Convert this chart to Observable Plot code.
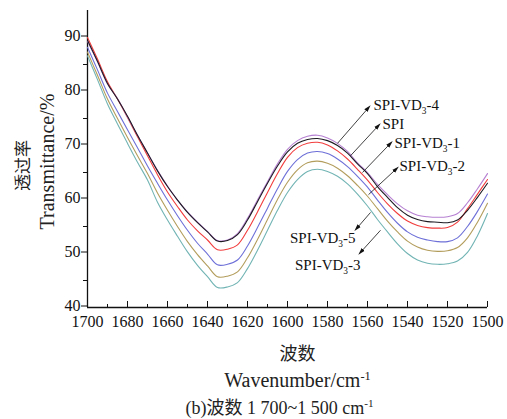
<!DOCTYPE html>
<html>
<head>
<meta charset="utf-8">
<script src="https://cdn.jsdelivr.net/npm/d3@7"></script>
<script src="https://cdn.jsdelivr.net/npm/@observablehq/plot@0.6"></script>
<style>
  html, body { margin: 0; padding: 0; background: #fff; }
  #chart { width: 507px; height: 419px; }
</style>
</head>
<body>
<div id="chart"></div>
<script>
// ---- data ----
const wavenumbers = [1700,1695,1690,1685,1680,1675,1670,1665,1660,1655,1650,1645,1640,1635,1630,1625,1620,1615,1610,1605,1600,1595,1590,1585,1580,1575,1570,1565,1560,1555,1550,1545,1540,1535,1530,1525,1520,1515,1510,1505,1500];

const seriesNames = ["SPI-VD3-3", "SPI-VD3-5", "SPI-VD3-2", "SPI-VD3-1", "SPI-VD3-4", "SPI"];
const seriesColors = ["#72b4b4", "#b39d5c", "#6e70d8", "#f23c3c", "#b680d2", "#1e1a22"];

const spiVD3_3 = [86.6,82.2,77.7,74.0,70.4,66.9,63.6,59.5,56.2,53.2,50.3,47.8,45.7,43.7,43.8,44.6,47.2,50.6,54.3,58.0,61.3,63.7,65.2,65.6,65.2,64.3,62.9,61.0,58.8,56.3,54.0,51.8,50.0,48.8,48.2,48.0,48.1,48.6,50.2,53.3,57.4];
const spiVD3_5 = [87.3,83.0,78.6,75.0,71.5,68.1,64.8,61.2,58.0,55.0,52.2,49.8,47.7,45.7,45.8,46.6,49.2,52.6,56.3,60.0,63.2,65.5,66.8,67.1,66.7,65.8,64.4,62.6,60.6,58.3,56.0,54.0,52.3,51.2,50.6,50.4,50.5,51.1,52.9,55.8,59.3];
const spiVD3_2 = [88.2,84.0,79.7,76.3,72.9,69.6,66.2,63.0,59.9,57.0,54.3,51.9,49.9,47.9,48.0,48.8,51.4,54.8,58.4,62.0,65.2,67.4,68.6,68.9,68.5,67.5,66.1,64.3,62.3,59.9,57.6,55.6,54.0,53.0,52.5,52.2,52.2,52.9,55.0,57.8,61.0];
const spiVD3_1 = [90.0,86.0,81.8,78.6,75.2,71.6,68.1,64.6,61.4,58.7,56.2,54.2,52.5,50.7,50.8,51.6,54.3,57.7,61.3,64.8,67.8,69.6,70.4,70.6,70.1,69.0,67.5,65.6,63.6,61.3,59.2,57.4,56.0,55.2,54.8,54.7,54.8,55.8,58.3,61.0,63.7];
const spiVD3_4 = [89.3,85.5,81.4,78.7,75.3,71.9,68.6,65.4,62.5,59.9,57.7,55.8,54.1,52.4,52.5,53.7,56.5,59.9,63.3,66.6,69.3,70.9,71.7,71.9,71.4,70.4,68.9,66.8,65.0,62.8,60.9,59.2,57.9,57.1,56.8,56.7,56.8,57.4,59.4,62.0,64.8];
const spi      = [89.5,85.6,81.5,78.6,75.4,71.9,68.6,65.3,62.4,59.9,57.6,55.7,54.0,52.3,52.4,53.5,56.2,59.6,63.0,66.2,68.8,70.4,71.1,71.3,70.9,70.0,68.6,66.6,64.8,62.4,60.4,58.5,57.1,56.3,55.9,55.8,55.7,56.2,58.0,60.4,63.0];

const seriesValues = [spiVD3_3, spiVD3_5, spiVD3_2, spiVD3_1, spiVD3_4, spi];

const yMajorTicks = [40, 50, 60, 70, 80, 90];
const yMinorTicks = [45, 55, 65, 75, 85];
const xMajorTicks = [1700, 1680, 1660, 1640, 1620, 1600, 1580, 1560, 1540, 1520, 1500];
const xMinorTicks = [1690, 1670, 1650, 1630, 1610, 1590, 1570, 1550, 1530, 1510];

// annotation labels (text, label anchor point, arrow start on curve, arrow tip)
const annLabels = ["SPI-VD_{3}-4", "SPI", "SPI-VD_{3}-1", "SPI-VD_{3}-2", "SPI-VD_{3}-5", "SPI-VD_{3}-3"];
const annTextX  = [1557, 1552.5, 1546.5, 1544, 1566, 1563.5];
const annTextY  = [77.4, 73.9, 70.4, 66.1, 52.8, 47.8];
const annAnchor = ["start", "start", "start", "start", "end", "end"];
const arrowX1 = [1575, 1568.5, 1562.5, 1559.5, 1558.5, 1553.5];
const arrowY1 = [70.4, 68.1, 65.0, 60.9, 57.6, 54.3];
const arrowX2 = [1559.5, 1554.5, 1548.5, 1545.5, 1565.5, 1563.5];
const arrowY2 = [77.0, 73.7, 70.4, 65.7, 54.6, 50.2];

const yTitleCN = "透过率";
const yTitleEN = "Transmittance/%";
const xTitleCN = "波数";
const xTitleEN = "Wavenumber/cm^{-1}";
const caption = "(b)波数 1 700~1 500 cm^{-1}";

// ---- build tables ----
const rows = [];
seriesNames.forEach((name, s) => {
  wavenumbers.forEach((w, i) => rows.push({series: name, w, t: seriesValues[s][i]}));
});
const ann = annLabels.map((label, i) => ({
  label, tx: annTextX[i], ty: annTextY[i], anchor: annAnchor[i],
  x1: arrowX1[i], y1: arrowY1[i], x2: arrowX2[i], y2: arrowY2[i]
}));

const FONT = "'Liberation Serif', 'Times New Roman', 'Noto Sans CJK SC', serif";

const chart = Plot.plot({
  width: 507,
  height: 419,
  marginLeft: 87,
  marginRight: 20,
  marginTop: 10,
  marginBottom: 112,
  style: {fontFamily: FONT, background: "#fff", overflow: "visible"},
  x: {domain: [1700, 1500]},
  y: {domain: [40, 95]},
  color: {domain: seriesNames, range: seriesColors},
  marks: [
    // axes
    Plot.axisY({ticks: yMajorTicks, tickSize: 6, tickPadding: 1, fontSize: 16, stroke: "#111", color: "#111", label: null, dy: -1.5}),
    Plot.axisY({ticks: yMinorTicks, tickSize: 4, text: null, stroke: "#111", label: null}),
    Plot.axisX({ticks: xMajorTicks, tickSize: -6, text: null, stroke: "#111", label: null}),
    Plot.axisX({ticks: xMinorTicks, tickSize: -3, text: null, stroke: "#111", label: null}),
    Plot.axisX({ticks: xMajorTicks, tickSize: 0, tickPadding: 8, fontSize: 16, color: "#111", tickFormat: d => String(d), label: null}),
    Plot.ruleX([1700], {stroke: "#111", strokeWidth: 1.3}),
    Plot.ruleY([40], {stroke: "#111", strokeWidth: 1.3}),
    // curves
    Plot.line(rows, {x: "w", y: "t", z: "series", stroke: "series", strokeWidth: 1.1, curve: "catmull-rom"}),
    // annotation arrows
    Plot.link(ann, {x1: "x1", y1: "y1", x2: "x2", y2: "y2", stroke: "#111", strokeWidth: 0.8, markerEnd: "arrow"}),
    Plot.text(ann.filter(d => d.anchor === "start"), {x: "tx", y: "ty", text: "label", textAnchor: "start", fontSize: 15, fill: "#111"}),
    Plot.text(ann.filter(d => d.anchor === "end"), {x: "tx", y: "ty", text: "label", textAnchor: "end", fontSize: 15, fill: "#111"}),
    // titles
    Plot.text([yTitleCN], {frameAnchor: "left", text: d => d, rotate: -90, textAnchor: "middle", lineAnchor: "middle", dx: -64, dy: 6.5, fontSize: 17, fill: "#222"}),
    Plot.text([yTitleEN], {frameAnchor: "left", text: d => d, rotate: -90, textAnchor: "middle", lineAnchor: "middle", dx: -40, dy: 2.5, fontSize: 20, fill: "#222"}),
    Plot.text([xTitleCN], {frameAnchor: "bottom", text: d => d, textAnchor: "middle", lineAnchor: "middle", dx: 10, dy: 47, fontSize: 18, fill: "#222"}),
    Plot.text([xTitleEN], {frameAnchor: "bottom", text: d => d, textAnchor: "middle", lineAnchor: "middle", dx: 10, dy: 73, fontSize: 20, fill: "#222"}),
    Plot.text([caption], {frameAnchor: "bottom", text: d => d, textAnchor: "middle", lineAnchor: "middle", dx: -8, dy: 101, fontSize: 18, fill: "#222"})
  ]
});

// rich text: _{sub} and ^{sup}
(function () {
  const NS = "http://www.w3.org/2000/svg";
  chart.querySelectorAll("text").forEach(t => {
    const s = t.textContent;
    if (!/[_^]\{/.test(s)) return;
    const parts = s.split(/([_^]\{[^}]*\})/).filter(p => p);
    while (t.firstChild) t.removeChild(t.firstChild);
    let shift = 0;
    parts.forEach(p => {
      const m = p.match(/^([_^])\{([^}]*)\}$/);
      const ts = document.createElementNS(NS, "tspan");
      if (m) {
        const d = m[1] === "_" ? 4 : -7;
        ts.textContent = m[2];
        ts.setAttribute("font-size", "0.62em");
        ts.setAttribute("dy", String(d - shift));
        shift = d;
      } else {
        ts.textContent = p;
        if (shift) ts.setAttribute("dy", String(-shift));
        shift = 0;
      }
      t.appendChild(ts);
    });
  });
  // filled arrow heads
  chart.querySelectorAll("marker").forEach(mk => {
    const col = mk.getAttribute("stroke") || "#111";
    mk.setAttribute("fill", col);
    mk.setAttribute("stroke", "none");
    mk.setAttribute("markerWidth", "10");
    mk.setAttribute("markerHeight", "10");
    const p = mk.querySelector("path");
    if (p) p.setAttribute("d", "M-5,-2.6L4,0L-5,2.6Z");
  });
})();

document.getElementById("chart").appendChild(chart);
</script>
</body>
</html>
